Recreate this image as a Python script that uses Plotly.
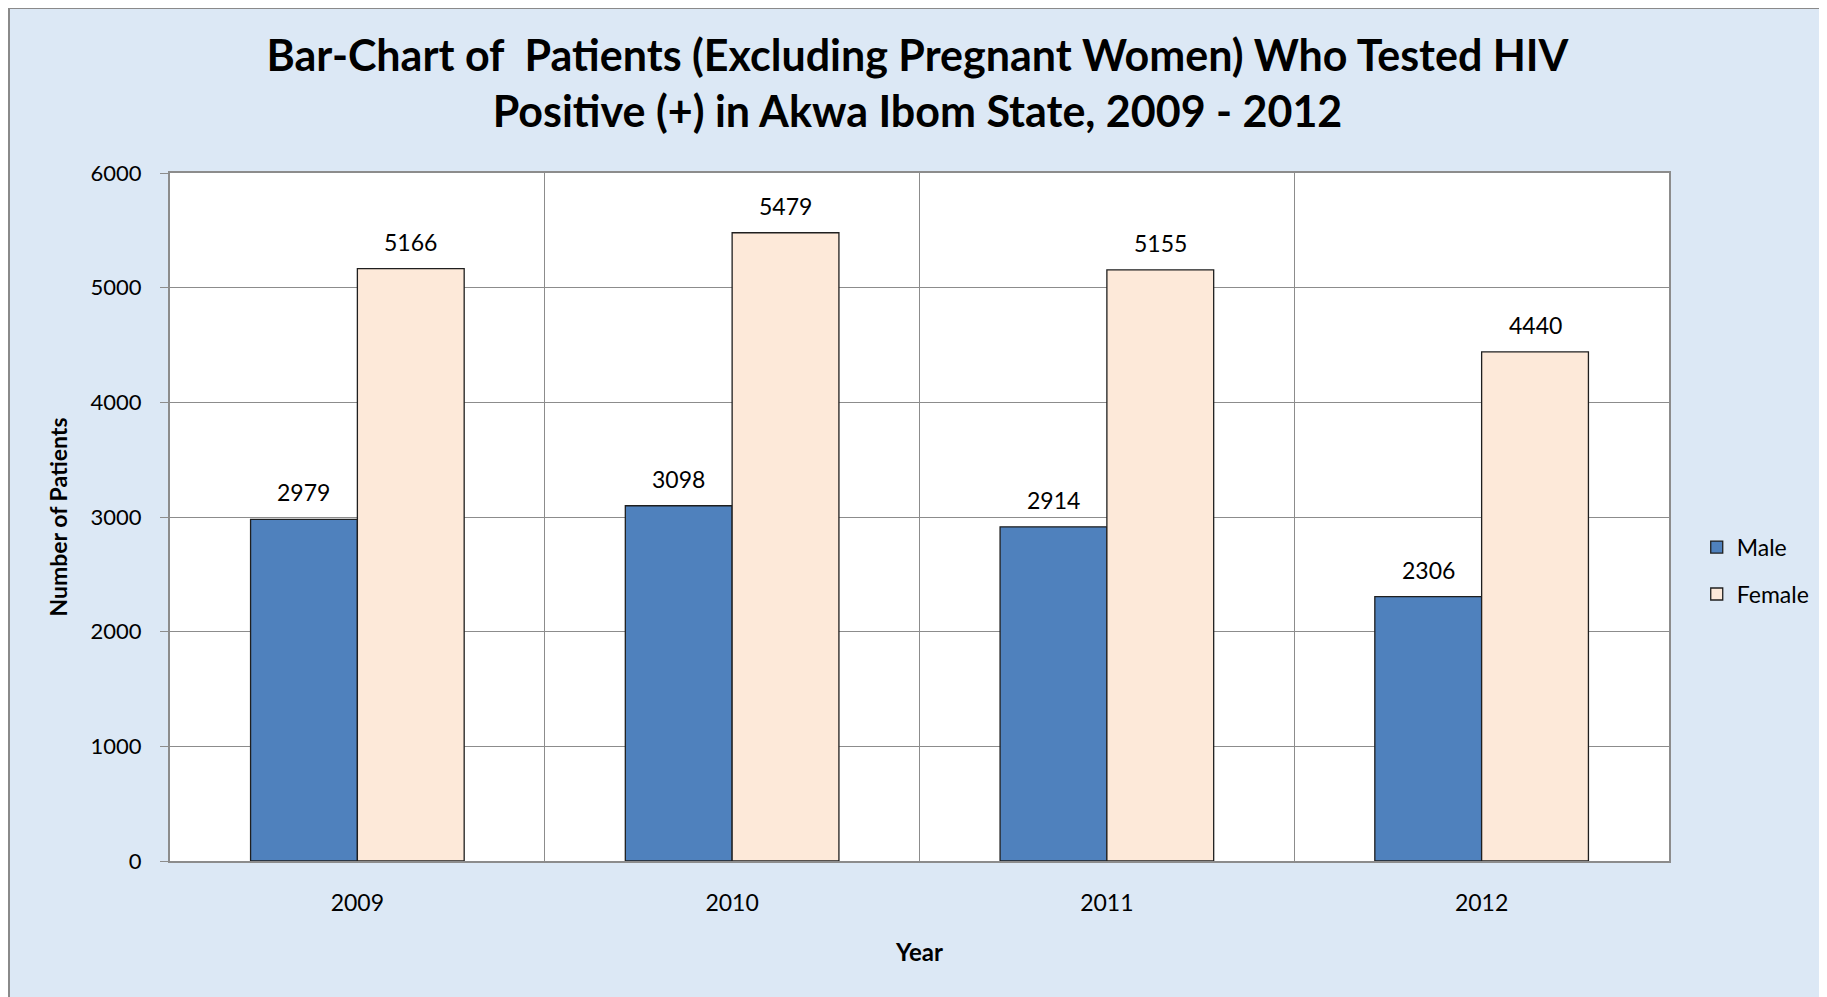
import plotly.graph_objects as go

years = ["2009", "2010", "2011", "2012"]
male = [2979, 3098, 2914, 2306]
female = [5166, 5479, 5155, 4440]

FONT = "Lato, 'Open Sans', sans-serif"
GRID = "#8c8c8c"

# page has an 8px body margin; plot area on the page: x 170..1669, y 173..861
W, H = 1819, 989
L, R, T, B = 162, 158, 165, 136
pw = W - L - R
ph = H - T - B
cat_px = pw / len(years)
BARGAP = 0.43
half_bar = cat_px * (1 - BARGAP) / 4

fig = go.Figure()

fig.add_trace(go.Bar(
    x=years, y=male, name="Male", legendgroup="m",
    marker=dict(color="#4f81bd", line=dict(color="#1f1f1f", width=1.3)),
))
fig.add_trace(go.Bar(
    x=years, y=female, name="Female", legendgroup="f",
    marker=dict(color="#fde9d9", line=dict(color="#1f1f1f", width=1.3)),
))

# value labels above bars (category index used as x on the category axis)
annotations = []
for series, shift in ((male, -half_bar), (female, half_bar)):
    for i, v in enumerate(series):
        annotations.append(dict(
            x=i, y=v, xref="x", yref="y", text=str(v), showarrow=False,
            xshift=shift, yshift=27, yanchor="middle",
            font=dict(size=23, color="black", family=FONT),
        ))

fig.update_layout(
    width=W, height=H,
    barmode="group", bargap=BARGAP, bargroupgap=0,
    paper_bgcolor="#dce8f5", plot_bgcolor="white",
    font=dict(family=FONT, size=22, color="black"),
    margin=dict(l=L, r=R, t=T, b=B),
    title=dict(
        text="Bar-Chart of  Patients (Excluding Pregnant Women) Who Tested HIV<br>Positive (+) in Akwa Ibom State, 2009 - 2012",
        x=0.5, xanchor="center", y=0.936, yanchor="top",
        font=dict(size=43, family=FONT, color="black", weight="bold"),
    ),
    xaxis=dict(
        type="category", tickson="boundaries", showgrid=True, gridcolor=GRID, gridwidth=1,
        showline=True, linecolor=GRID, linewidth=2, mirror=True, ticks="",
        tickfont=dict(size=23), ticklabelstandoff=20, tickangle=0,
        title=dict(text="<b>Year</b>", font=dict(size=24), standoff=30),
    ),
    yaxis=dict(
        range=[0, 6000], dtick=1000, showgrid=True, gridcolor=GRID, gridwidth=1,
        showline=True, linecolor=GRID, linewidth=2, mirror=True,
        ticks="outside", ticklen=8, tickcolor=GRID, tickfont=dict(size=22),
        ticklabelstandoff=14,
        title=dict(text="<b>Number of Patients</b>", font=dict(size=23), standoff=17),
        zeroline=False,
    ),
    legend=dict(
        x=1.0185, y=0.422, xanchor="left", yanchor="middle",
        bgcolor="rgba(0,0,0,0)", font=dict(size=23),
        itemwidth=30, traceorder="grouped", tracegroupgap=14,
    ),
    showlegend=True,
    annotations=annotations,
    shapes=[dict(
        type="rect", xref="paper", yref="paper",
        x0=(1 - L) / pw, x1=(W + 20 - L) / pw,
        y0=-(B + 20) / ph, y1=1 + (T - 0) / ph,
        line=dict(color="#8a8a8a", width=2), layer="below",
    )],
)

fig.write_html("out.html")
